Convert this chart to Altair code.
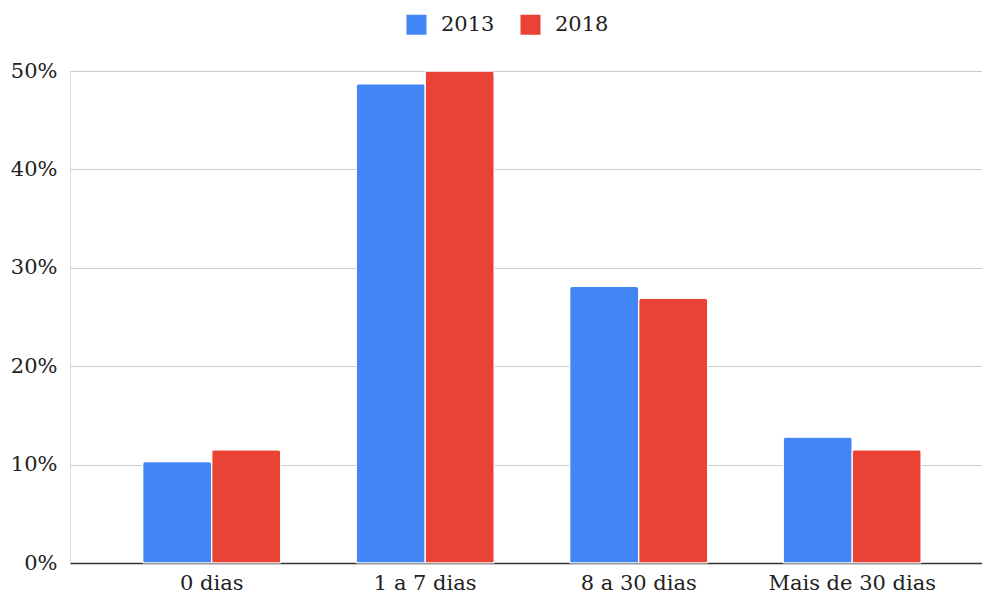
import altair as alt
import pandas as pd

# Share of cases by duration, two survey years
categories = ["0 dias", "1 a 7 dias", "8 a 30 dias", "Mais de 30 dias"]
years = ["2013", "2018"]
values_2013 = [0.103, 0.487, 0.281, 0.128]
values_2018 = [0.115, 0.500, 0.269, 0.115]
colors = ["#4285F4", "#EA4335"]

rows = []
for cat, a, b in zip(categories, values_2013, values_2018):
    rows.append({"categoria": cat, "ano": years[0], "valor": a})
    rows.append({"categoria": cat, "ano": years[1], "valor": b})
df = pd.DataFrame(rows)

FONT = "DejaVu Serif"
FONT_SIZE = 21

chart = (
    alt.Chart(df)
    .mark_bar(
        stroke="white",
        strokeWidth=1,
        cornerRadiusTopLeft=3,
        cornerRadiusTopRight=3,
    )
    .encode(
        x=alt.X(
            "categoria:N",
            sort=categories,
            title=None,
            scale=alt.Scale(paddingInner=0.3536, paddingOuter=0.3127, align=0.5446),
            axis=alt.Axis(
                labelAngle=0,
                labelFont=FONT,
                labelFontSize=FONT_SIZE,
                labelColor="#222222",
                labelPadding=9,
                ticks=False,
                domainColor="#333333",
                domainWidth=1.3,
                grid=False,
            ),
        ),
        xOffset=alt.XOffset("ano:N", sort=years, scale=alt.Scale(paddingInner=0, paddingOuter=0)),
        y=alt.Y(
            "valor:Q",
            title=None,
            scale=alt.Scale(domain=[0, 0.5], nice=False),
            axis=alt.Axis(
                format=".0%",
                values=[0, 0.1, 0.2, 0.3, 0.4, 0.5],
                labelFont=FONT,
                labelFontSize=FONT_SIZE,
                labelColor="#222222",
                labelPadding=13,
                ticks=False,
                domain=False,
                gridColor="#cccccc",
                gridWidth=1,
            ),
        ),
        color=alt.Color(
            "ano:N",
            sort=years,
            scale=alt.Scale(domain=years, range=colors),
            legend=alt.Legend(
                title=None,
                orient="none",
                direction="horizontal",
                legendX=336,
                legendY=-57,
                padding=0,
                symbolType="square",
                symbolSize=400,
                symbolStrokeWidth=0,
                labelFont=FONT,
                labelFontSize=FONT_SIZE,
                labelColor="#222222",
                labelOffset=14,
                columnPadding=25,
            ),
        ),
    )
    .properties(
        width=912,
        height=492,
        autosize=alt.AutoSizeParams(type="none"),
        padding={"left": 70, "top": 71, "right": 0, "bottom": 34},
    )
    .configure_view(stroke=None)
    .configure(background="white")
)

chart.save("out.html", embed_options={"renderer": "svg", "actions": False})
